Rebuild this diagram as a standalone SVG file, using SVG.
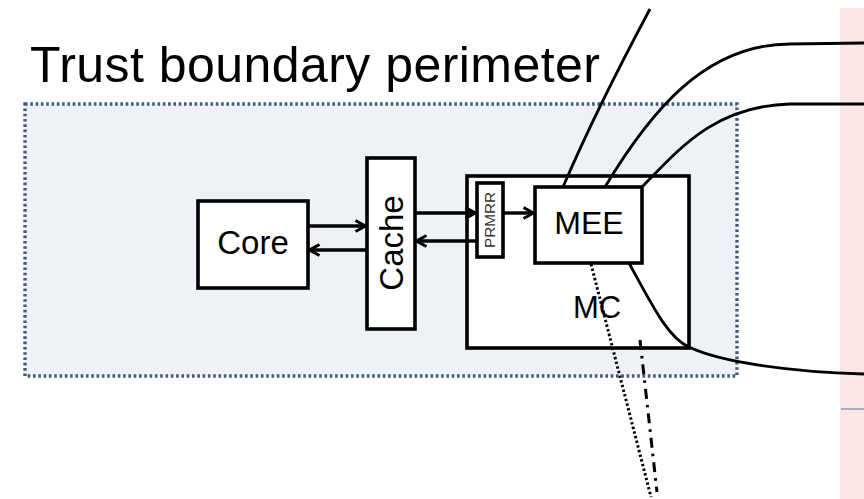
<svg xmlns="http://www.w3.org/2000/svg" width="864" height="499" viewBox="0 0 864 499">
<defs>
<marker id="ah" viewBox="0 0 14 14" refX="12.5" refY="7" markerWidth="14" markerHeight="14" markerUnits="userSpaceOnUse" orient="auto">
<path d="M2,1.5 L12,7 L2,12.5" fill="none" stroke="#000" stroke-width="3"/>
</marker>
</defs>
<style>
.box{fill:#fff;stroke:#000;stroke-width:3.6}
.lbl{font-family:"Liberation Sans",Arial,sans-serif;fill:#000;text-anchor:middle}
.arr{stroke:#000;stroke-width:3.4;fill:none;marker-end:url(#ah)}
.cur{stroke:#000;stroke-width:2.8;fill:none}
</style>
<rect x="0" y="0" width="864" height="499" fill="#fff"/>
<rect x="840" y="8" width="24" height="491" fill="#fbe5e5"/>
<line x1="841" y1="409" x2="864" y2="409" stroke="#8a96b8" stroke-width="1.5"/>
<g id="boundary">
<rect x="25" y="104" width="712" height="272" fill="#eef2f7" stroke="#3f5a80" stroke-width="3.4" stroke-dasharray="2.6 2.7"/>
<text class="lbl" x="30" y="82" font-size="50" style="text-anchor:start" textLength="570">Trust boundary perimeter</text>
</g>
<g id="core">
<rect class="box" x="198" y="201" width="110" height="87"/>
<text class="lbl" x="253" y="254" font-size="33">Core</text>
</g>
<g id="cache">
<rect class="box" x="367" y="158" width="48" height="171"/>
<text class="lbl" font-size="33" transform="translate(403,243) rotate(-90)">Cache</text>
</g>
<g id="mc">
<rect class="box" x="467" y="176" width="222" height="172"/>
<text class="lbl" x="597" y="318" font-size="31">MC</text>
</g>
<g id="prmrr">
<rect class="box" x="477" y="183" width="26" height="74" stroke-width="3"/>
<text class="lbl" font-size="14" style="fill:#333" transform="translate(495,220) rotate(-90)" textLength="56" lengthAdjust="spacingAndGlyphs">PRMRR</text>
</g>
<g id="mee">
<rect class="box" x="535" y="187" width="107" height="76"/>
<text class="lbl" x="589" y="234" font-size="32">MEE</text>
</g>
<g id="connectors">
<line class="arr" x1="308" y1="226" x2="366" y2="226"/>
<line class="arr" x1="367" y1="250" x2="309" y2="250"/>
<line class="arr" x1="415" y1="213" x2="476" y2="213"/>
<line class="arr" x1="477" y1="241" x2="416" y2="241"/>
<line class="arr" x1="503" y1="213" x2="534" y2="213"/>
<path class="cur" d="M563,187 Q596,110 650,9"/>
<path class="cur" d="M605,187 C650,112 705,44 790,44 L864,43"/>
<path class="cur" d="M643,186 C680,148 715,106 790,104 L864,104"/>
<path class="cur" d="M629,263 C652,305 668,338 689,347 C720,362 790,372 864,374"/>
<line x1="591" y1="264" x2="651" y2="497" stroke="#000" stroke-width="3" stroke-dasharray="2.4 2.4"/>
<line x1="640" y1="340" x2="657" y2="492" stroke="#000" stroke-width="3" stroke-dasharray="10 6 2.6 6"/>
</g>
</svg>
